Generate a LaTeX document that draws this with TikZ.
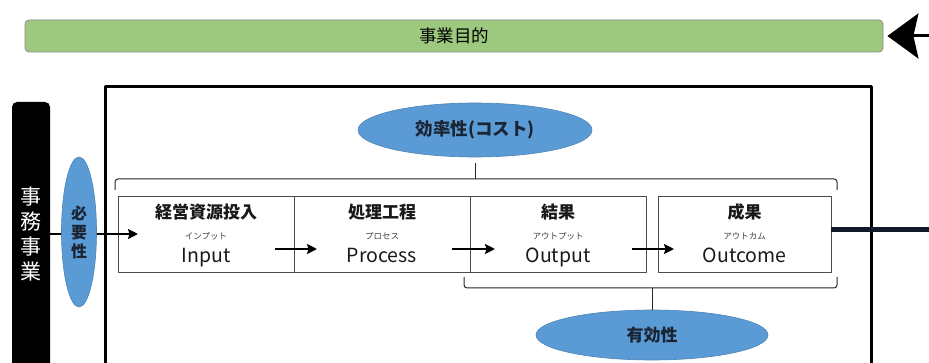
\documentclass[tikz,border=0pt]{standalone}
\usepackage{fontspec}
\setmainfont{Noto Sans CJK JP}
\usepackage{tikz}
\usetikzlibrary{positioning,calc,shapes.geometric,arrows.meta}
\definecolor{goalgreen}{HTML}{9DC97F}
\definecolor{evalblue}{HTML}{5B9BD5}
\definecolor{navyline}{HTML}{101A2A}
\definecolor{evaltext}{HTML}{1A2433}

\begin{document}
\begin{tikzpicture}[x=1pt,y=-1pt,line join=round,
  stage/.style={draw=black!70,line width=0.9pt,minimum width=176pt,minimum height=76pt,inner sep=0pt,outer sep=0pt},
  head/.style={anchor=base,text=black!90,font=\bfseries\fontsize{17}{17}\selectfont},
  ruby/.style={anchor=base,text=black!75,font=\fontsize{8.5}{8.5}\selectfont},
  word/.style={anchor=base,text=black!90,font=\fontsize{19.5}{19.5}\selectfont},
  gauge/.style={ellipse,fill=evalblue,draw=evalblue!85!black,line width=0.6pt,inner sep=0pt,text=evaltext},
  bracket/.style={draw=black!85,line width=1pt,rounded corners=3pt},
  flow/.style={line width=2.2pt,-{Stealth[length=10pt,width=10pt,inset=1.5pt]}}]
\tikzset{>={Stealth[length=31pt,width=45pt,inset=5pt]}}
\useasboundingbox[fill=white] (0,0) rectangle (929,363);
\clip (0,0) rectangle (929,363);
  \node[rounded corners=4pt,fill=goalgreen,draw=black!45,line width=0.8pt,minimum width=858pt,minimum height=32pt,
        font=\fontsize{17.5}{17.5}\selectfont] (mokuteki) at (454,36) {事業目的};
  \coordinate (goalin) at (929,36);
  \path[->,line width=3pt] (goalin) edge ([xshift=4pt]mokuteki.east);
  \draw[line width=3pt] (105,380) |- (871,87) -- (871,380);
  \node[fill=black,rounded corners=5pt,minimum width=38pt,minimum height=290pt] (jimu) at (31,247) {};
  \node[text=white,align=center,font=\fontsize{21}{25}\selectfont] (jimutext) at (31,234) {事\\務\\事\\業};
  \node[stage] (input) at (206,234) {};
  \node[stage] (process) [right=0pt of input] {};
  \node[stage] (output) [right=0pt of process] {};
  \node[stage,minimum width=173pt] (outcome) [right=12pt of output] {};
  \node[head] at ([yshift=15pt]input.center) {経営資源投入};
  \node[ruby] at ([yshift=-6pt]input.center) {インプット};
  \node[word] at ([yshift=-29pt]input.center) {Input};
  \node[head] at ([yshift=15pt]process.center) {処理工程};
  \node[ruby] at ([yshift=-6pt]process.center) {プロセス};
  \node[word] at ([yshift=-29pt]process.center) {Process};
  \node[head] at ([yshift=15pt]output.center) {結果};
  \node[ruby] at ([yshift=-6pt]output.center) {アウトプット};
  \node[word] at ([yshift=-29pt]output.center) {Output};
  \node[head] at ([yshift=15pt]outcome.center) {成果};
  \node[ruby] at ([yshift=-6pt]outcome.center) {アウトカム};
  \node[word] at ([yshift=-29pt]outcome.center) {Outcome};
  \draw[flow] (jimu.east |- input.west) -- ([xshift=20pt]input.west);
  \node[gauge,align=center,minimum width=35pt,minimum height=150pt,font=\bfseries\fontsize{16}{19}\selectfont] (hitsuyou) at (79,232) {必\\要\\性};
  \draw[flow] ([xshift=-19pt,yshift=-15pt]input.east) -- ([xshift=23pt,yshift=-15pt]process.west);
  \draw[flow] ([xshift=-18pt,yshift=-15pt]process.east) -- ([xshift=25pt,yshift=-15pt]output.west);
  \draw[flow] ([xshift=-14pt,yshift=-15pt]output.east) -- ([xshift=16pt,yshift=-15pt]outcome.west);
  \node[gauge,minimum width=234pt,minimum height=54pt,font=\bfseries\fontsize{17.5}{17.5}\selectfont] (kouritsu) at (475,130) {効率性(コスト)};
  \node[gauge,minimum width=232pt,minimum height=50pt,font=\bfseries\fontsize{17}{17}\selectfont] (yuukou) at (652,335) {有効性};
  \draw[bracket] ([xshift=-3pt,yshift=6pt]input.north west) -- ++(0,-11) -| ([xshift=6pt,yshift=6pt]outcome.north east);
  \draw[bracket] ([yshift=-6pt]kouritsu.south) -- ++(0,16);
  \draw[bracket] ([xshift=-6pt,yshift=-5pt]output.south west) -- ++(0,11) -| ([xshift=6pt,yshift=-5pt]outcome.south east);
  \draw[bracket] (yuukou.north) -- ++(0,-22);
  \coordinate (exit) at (929,230);
  \draw[navyline,line width=5pt] ([yshift=4pt]outcome.east) -- (exit);
\end{tikzpicture}
\end{document}
